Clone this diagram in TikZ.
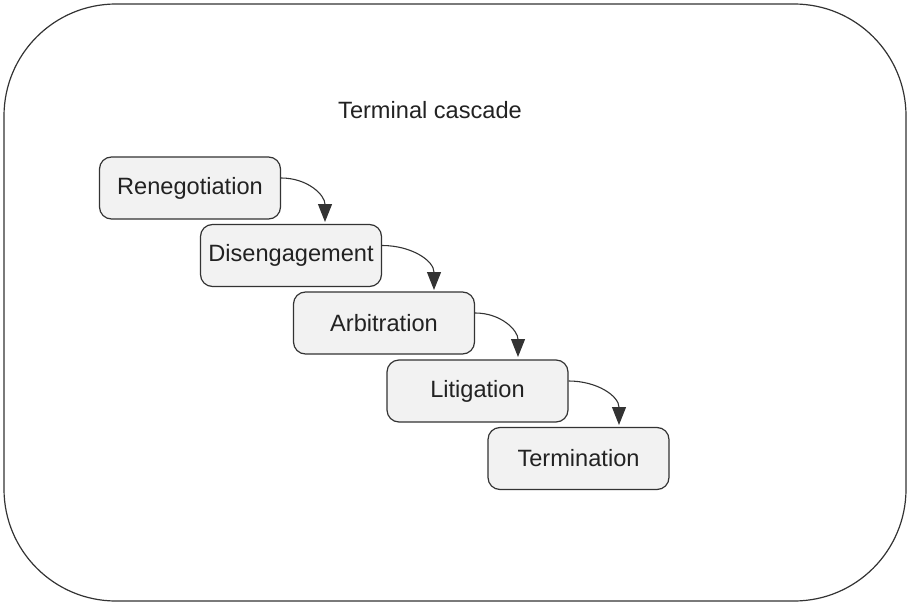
\documentclass[tikz,border=0pt]{standalone}
\usepackage{fontspec}
\setmainfont{Liberation Sans}
\usetikzlibrary{arrows.meta}
\definecolor{boxfill}{HTML}{F2F2F2}
\definecolor{lineclr}{HTML}{333333}
\definecolor{txt}{HTML}{222222}
\tikzset{
  stagebox/.style={draw=lineclr, fill=boxfill, line width=1.2pt, rounded corners=12pt,
    minimum width=181pt, minimum height=62pt, inner sep=0pt, text=txt,
    font=\fontsize{23.6}{28}\selectfont},
  flowarrow/.style={draw=lineclr, line width=1.1pt, -{Triangle[length=18pt,width=14pt]}},
  frame/.style={draw=lineclr, line width=1.2pt, rounded corners=112pt}
}
\begin{document}
\begin{tikzpicture}[x=1pt,y=-1pt]
\useasboundingbox (0,0) rectangle (909,604);
\draw[frame] (4,4) rectangle (906,601);
\node[text=txt, font=\fontsize{23.6}{28}\selectfont] (title) at (430,110) {Terminal cascade};
\node[stagebox] (b1) at (190,188) {Renegotiation};
\node[stagebox] (b2) at (291,255.5) {Disengagement};
\node[stagebox] (b3) at (384,323) {Arbitration};
\node[stagebox] (b4) at (477.5,391) {Litigation};
\node[stagebox] (b5) at (578.5,458.5) {Termination};
\coordinate (t1) at (325,222);
\coordinate (t2) at (434,290);
\coordinate (t3) at (518,357);
\coordinate (t4) at (619,425);
\draw[flowarrow] ([yshift=10pt]b1.east) to[out=0,in=90,looseness=1.1] (t1);
\draw[flowarrow] ([yshift=10pt]b2.east) to[out=0,in=90,looseness=1.1] (t2);
\draw[flowarrow] ([yshift=10pt]b3.east) to[out=0,in=90,looseness=1.1] (t3);
\draw[flowarrow] ([yshift=10pt]b4.east) to[out=0,in=90,looseness=1.1] (t4);
\end{tikzpicture}
\end{document}
